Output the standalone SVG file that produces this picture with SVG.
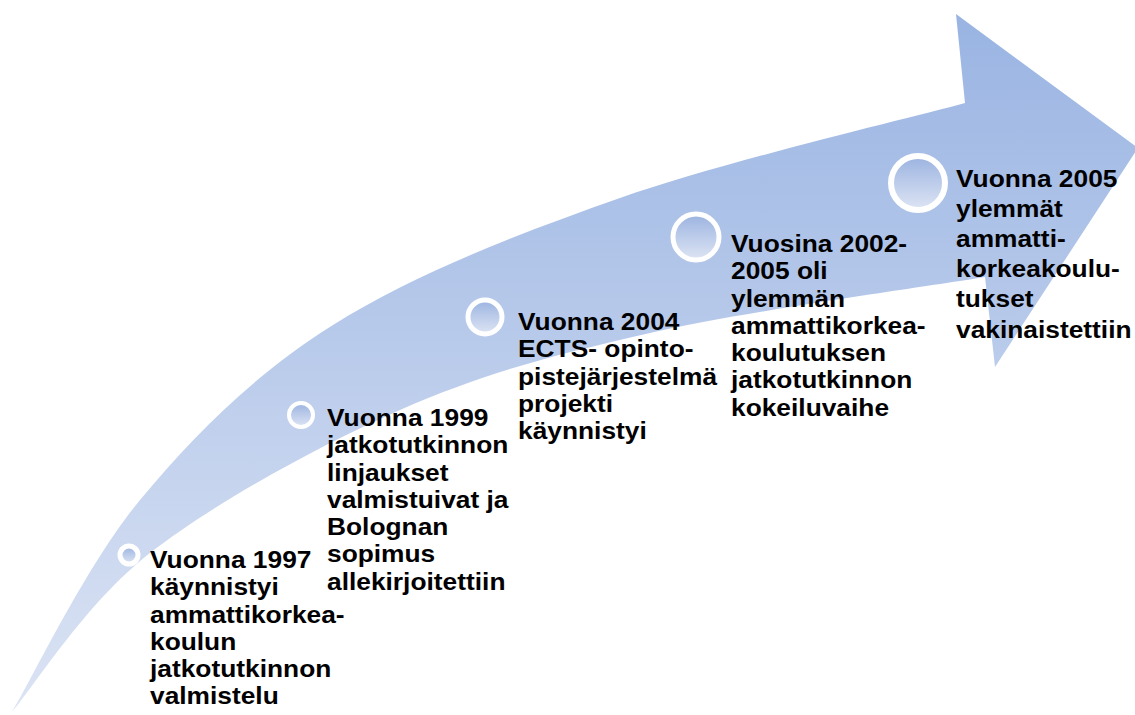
<svg xmlns="http://www.w3.org/2000/svg" width="1135" height="715" viewBox="0 0 1135 715">
<defs>
<linearGradient id="arrowGrad" x1="0" y1="0" x2="0" y2="715" gradientUnits="userSpaceOnUse">
<stop offset="0" stop-color="#98B3E2"/>
<stop offset="1" stop-color="#DCE4F4"/>
</linearGradient>
<linearGradient id="dotGrad" x1="0" y1="0" x2="0" y2="1">
<stop offset="0" stop-color="#9BB3E0"/>
<stop offset="1" stop-color="#DEE5F4"/>
</linearGradient>
<style>
.dot{fill:url(#dotGrad);stroke:#FFFFFF}
.lbl{font-family:"Liberation Sans",Arial,sans-serif;font-weight:bold;font-size:23.3px;fill:#000000}
</style>
</defs>
<rect width="1135" height="715" fill="#FFFFFF"/>
<g id="connectors">
<path id="arrow" fill="url(#arrowGrad)" d="M12,712 C33.3,676.7 86.5,564.5 140,500 C193.5,435.5 253,375.3 333,325 C413,274.7 514.7,235 620,198 C725.3,161 907.5,118.8 965,103 L956,14 L1138,148 L995,367 L985,277 C929.2,286.3 747.5,310.8 650,333 C552.5,355.2 483.3,373.3 400,410 C316.7,446.7 214.7,502.7 150,553 C85.3,603.3 35,685.5 12,712 Z"/>
</g>
<g id="node1">
<circle class="dot" cx="129" cy="555" r="9" stroke-width="5"/>
<text class="lbl" transform="translate(150,568) scale(1.13,1)"><tspan x="0" y="0">Vuonna 1997</tspan><tspan x="0" y="27.3">käynnistyi</tspan><tspan x="0" y="54.6">ammattikorkea-</tspan><tspan x="0" y="81.9">koulun</tspan><tspan x="0" y="109.2">jatkotutkinnon</tspan><tspan x="0" y="136.5">valmistelu</tspan></text>
</g>
<g id="node2">
<circle class="dot" cx="301" cy="415" r="12" stroke-width="4"/>
<text class="lbl" transform="translate(327,426) scale(1.13,1)"><tspan x="0" y="0">Vuonna 1999</tspan><tspan x="0" y="27.3">jatkotutkinnon</tspan><tspan x="0" y="54.6">linjaukset</tspan><tspan x="0" y="81.9">valmistuivat ja</tspan><tspan x="0" y="109.2">Bolognan</tspan><tspan x="0" y="136.5">sopimus</tspan><tspan x="0" y="163.8">allekirjoitettiin</tspan></text>
</g>
<g id="node3">
<circle class="dot" cx="485" cy="317" r="17" stroke-width="5"/>
<text class="lbl" transform="translate(518,330) scale(1.13,1)"><tspan x="0" y="0">Vuonna 2004</tspan><tspan x="0" y="27.3">ECTS- opinto-</tspan><tspan x="0" y="54.6">pistejärjestelmä</tspan><tspan x="0" y="81.9">projekti</tspan><tspan x="0" y="109.2">käynnistyi</tspan></text>
</g>
<g id="node4">
<circle class="dot" cx="696" cy="237" r="23" stroke-width="5"/>
<text class="lbl" transform="translate(731,252) scale(1.13,1)"><tspan x="0" y="0">Vuosina 2002-</tspan><tspan x="0" y="27.3">2005 oli</tspan><tspan x="0" y="54.6">ylemmän</tspan><tspan x="0" y="81.9">ammattikorkea-</tspan><tspan x="0" y="109.2">koulutuksen</tspan><tspan x="0" y="136.5">jatkotutkinnon</tspan><tspan x="0" y="163.8">kokeiluvaihe</tspan></text>
</g>
<g id="node5">
<circle class="dot" cx="918" cy="183" r="27" stroke-width="6"/>
<text class="lbl" transform="translate(956,187) scale(1.13,1)"><tspan x="0" y="0">Vuonna 2005</tspan><tspan x="0" y="30">ylemmät</tspan><tspan x="0" y="60">ammatti-</tspan><tspan x="0" y="90">korkeakoulu-</tspan><tspan x="0" y="120">tukset</tspan><tspan x="0" y="151">vakinaistettiin</tspan></text>
</g>
</svg>
